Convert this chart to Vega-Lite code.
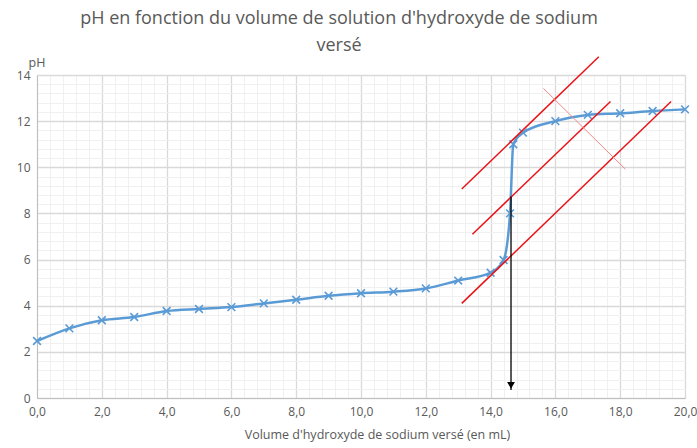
{
  "$schema": "https://vega.github.io/schema/vega-lite/v6.json",
  "autosize": "none",
  "width": 648,
  "height": 323,
  "padding": {"left": 37, "top": 75, "right": 12, "bottom": 50},
  "background": "white",
  "config": {
    "font": "Open Sans",
    "view": {"stroke": null},
    "axis": {"labelColor": "#595959", "titleColor": "#595959", "labelFontSize": 12, "titleFontSize": 12.5, "titleFontWeight": "normal", "ticks": false, "domainColor": "#bfbfbf", "labelFont": "Open Sans", "titleFont": "Open Sans"}
  },
  "title": {
    "text": ["pH en fonction du volume de solution d'hydroxyde de sodium", "versé"],
    "fontSize": 18,
    "fontWeight": "normal",
    "color": "#595959",
    "font": "Open Sans",
    "anchor": "middle",
    "dx": -22,
    "offset": -1,
    "lineHeight": 27
  },
  "datasets": {
    "curve": [
      {"v": 0, "ph": 2.47}, {"v": 1, "ph": 3.02}, {"v": 2, "ph": 3.37}, {"v": 3, "ph": 3.51},
      {"v": 4, "ph": 3.77}, {"v": 5, "ph": 3.86}, {"v": 6, "ph": 3.94}, {"v": 7, "ph": 4.1},
      {"v": 8, "ph": 4.26}, {"v": 9, "ph": 4.43}, {"v": 10, "ph": 4.54}, {"v": 11, "ph": 4.61},
      {"v": 12, "ph": 4.75}, {"v": 13, "ph": 5.09}, {"v": 14, "ph": 5.43}, {"v": 14.4, "ph": 5.98},
      {"v": 14.6, "ph": 8.0}, {"v": 14.7, "ph": 11.0}, {"v": 15, "ph": 11.5}, {"v": 16, "ph": 12.0},
      {"v": 17, "ph": 12.27}, {"v": 18, "ph": 12.34}, {"v": 19, "ph": 12.44}, {"v": 20, "ph": 12.51}
    ],
    "tangents": [
      {"id": "a", "v": 13.11, "ph": 9.06}, {"id": "a", "v": 17.34, "ph": 14.79},
      {"id": "b", "v": 13.44, "ph": 7.1}, {"id": "b", "v": 17.7, "ph": 12.85},
      {"id": "c", "v": 13.11, "ph": 4.1}, {"id": "c", "v": 19.57, "ph": 12.85}
    ],
    "perp": [
      {"v": 15.63, "ph": 13.42}, {"v": 18.16, "ph": 9.92}
    ],
    "arrow": [
      {"v": 14.63, "top": 8.73, "bottom": 0.35, "tip": 0.55}
    ]
  },
  "layer": [
    {
      "data": {"name": "curve"},
      "mark": {"type": "line", "interpolate": "monotone", "color": "#5B9BD5", "strokeWidth": 2.5},
      "encoding": {
        "x": {
          "field": "v", "type": "quantitative",
          "scale": {"domain": [0, 20], "nice": false},
          "axis": {
            "title": "Volume d'hydroxyde de sodium versé (en mL)",
            "titlePadding": 11,
            "titleX": 340,
            "tickCount": 200,
            "values": [0,0.4,0.8,1.2,1.6,2,2.4,2.8,3.2,3.6,4,4.4,4.8,5.2,5.6,6,6.4,6.8,7.2,7.6,8,8.4,8.8,9.2,9.6,10,10.4,10.8,11.2,11.6,12,12.4,12.8,13.2,13.6,14,14.4,14.8,15.2,15.6,16,16.4,16.8,17.2,17.6,18,18.4,18.8,19.2,19.6,20],
            "labelExpr": "abs(datum.value/2 - round(datum.value/2)) < 0.01 ? replace(format(datum.value, '.1f'), '.', ',') : ''",
            "labelPadding": 8,
            "labelFlush": false,
            "labelOverlap": false,
            "grid": true,
            "gridColor": {"condition": {"test": "abs(datum.value/2 - round(datum.value/2)) < 0.01", "value": "#d9d9d9"}, "value": "#f0f0f0"},
            "gridWidth": {"condition": {"test": "abs(datum.value/2 - round(datum.value/2)) < 0.01", "value": 1.3}, "value": 1}
          }
        },
        "y": {
          "field": "ph", "type": "quantitative",
          "scale": {"domain": [0, 14], "nice": false},
          "axis": {
            "title": "pH",
            "titleAngle": 0,
            "titleAlign": "left",
            "titleBaseline": "bottom",
            "titleX": -9,
            "titleY": -6,
            "tickCount": 200,
            "values": [0,0.4,0.8,1.2,1.6,2,2.4,2.8,3.2,3.6,4,4.4,4.8,5.2,5.6,6,6.4,6.8,7.2,7.6,8,8.4,8.8,9.2,9.6,10,10.4,10.8,11.2,11.6,12,12.4,12.8,13.2,13.6,14],
            "labelExpr": "abs(datum.value/2 - round(datum.value/2)) < 0.01 ? format(datum.value, 'd') : ''",
            "labelPadding": 7,
            "labelFlush": false,
            "labelOverlap": false,
            "grid": true,
            "gridColor": {"condition": {"test": "abs(datum.value/2 - round(datum.value/2)) < 0.01", "value": "#d9d9d9"}, "value": "#f0f0f0"},
            "gridWidth": {"condition": {"test": "abs(datum.value/2 - round(datum.value/2)) < 0.01", "value": 1.3}, "value": 1}
          }
        }
      }
    },
    {
      "data": {"name": "curve"},
      "mark": {"type": "point", "shape": "M-1,-1L1,1M1,-1L-1,1", "filled": false, "color": "#5B9BD5", "strokeWidth": 1.6, "size": 60, "opacity": 1},
      "encoding": {
        "x": {"field": "v", "type": "quantitative"},
        "y": {"field": "ph", "type": "quantitative"}
      }
    },
    {
      "data": {"name": "tangents"},
      "mark": {"type": "line", "color": "#e8141a", "strokeWidth": 1.5, "clip": false},
      "encoding": {
        "x": {"field": "v", "type": "quantitative"},
        "y": {"field": "ph", "type": "quantitative"},
        "detail": {"field": "id"}
      }
    },
    {
      "data": {"name": "perp"},
      "mark": {"type": "line", "color": "#f08a8a", "strokeWidth": 1, "clip": false},
      "encoding": {
        "x": {"field": "v", "type": "quantitative"},
        "y": {"field": "ph", "type": "quantitative"}
      }
    },
    {
      "data": {"name": "arrow"},
      "mark": {"type": "rule", "color": "#000000", "strokeWidth": 1.3},
      "encoding": {
        "x": {"field": "v", "type": "quantitative"},
        "y": {"field": "top", "type": "quantitative"},
        "y2": {"field": "bottom"}
      }
    },
    {
      "data": {"name": "arrow"},
      "mark": {"type": "point", "shape": "triangle-down", "filled": true, "color": "#000000", "size": 60, "opacity": 1},
      "encoding": {
        "x": {"field": "v", "type": "quantitative"},
        "y": {"field": "tip", "type": "quantitative"}
      }
    }
  ]
}
